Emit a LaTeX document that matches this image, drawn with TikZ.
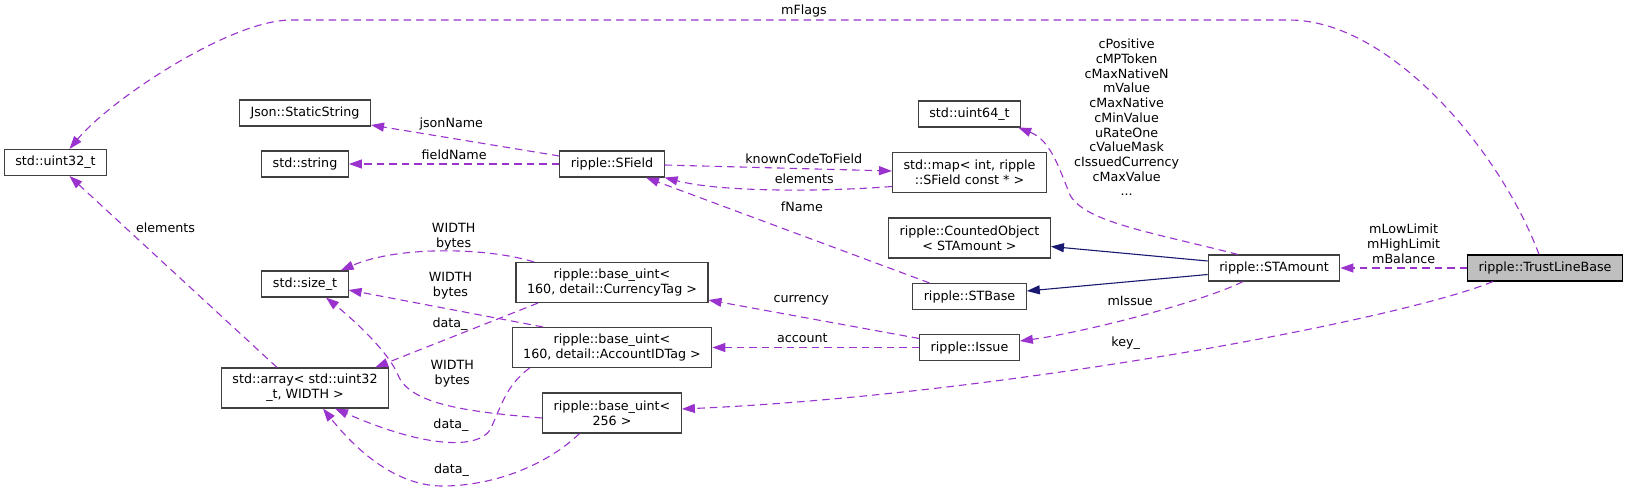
\documentclass[tikz,border=0pt]{standalone}
\usepackage{fontspec}
\setmainfont{DejaVu Sans}
\usetikzlibrary{arrows.meta}
\definecolor{usecol}{HTML}{9A32CD}
\definecolor{inhcol}{HTML}{191970}
\definecolor{boxgray}{HTML}{404040}
\definecolor{rootgray}{HTML}{BFBFBF}
\newcommand{\dxfont}{\fontsize{12.7pt}{14.7pt}\selectfont}
\tikzstyle{block} = [draw=boxgray, fill=white, rectangle, line width=1.1pt,
    minimum height=26pt, inner xsep=11pt, inner ysep=2pt, align=center, font=\dxfont]
\tikzstyle{wideblock} = [block, minimum height=40pt]
\tikzstyle{rootblock} = [block, draw=black, fill=rootgray]
\tikzstyle{memberline} = [draw=usecol, line width=1.1pt, dash pattern=on 7.5pt off 5pt]
\tikzstyle{inheritline} = [draw=inhcol, line width=1.1pt]
\tikzstyle{lbl} = [font=\dxfont, inner sep=1pt, align=center, text=black]
\begin{document}
\begin{tikzpicture}[x=1pt, y=-1pt, >={Triangle[length=13pt, width=9pt]}]
    \useasboundingbox (0,0) rectangle (1629,491);
    \node [block] (json) at (305,113) {Json::StaticString};
    \node [block, node distance=51pt, below of=json] (string) {std::string};
    \node [block, node distance=120pt, below of=string] (sizet) {std::size\_t};
    \node [wideblock, node distance=104pt, below of=sizet] (array) {std::array< std::uint32\\\_t, WIDTH >};
    \node [block, node distance=249.5pt, left of=string, yshift=1.5pt] (uint32) {std::uint32\_t};
    \node [block, node distance=307pt, right of=string] (sfield) {ripple::SField};
    \node [wideblock, node distance=118.5pt, below of=sfield] (currency) {ripple::base\_uint<\\160, detail::CurrencyTag >};
    \node [wideblock, node distance=65pt, below of=currency] (account) {ripple::base\_uint<\\160, detail::AccountIDTag >};
    \node [wideblock, node distance=65.5pt, below of=account] (base256) {ripple::base\_uint<\\256 >};
    \node [block, node distance=357.5pt, right of=account] (issue) {ripple::Issue};
    \node [block, node distance=51pt, above of=issue] (stbase) {ripple::STBase};
    \node [wideblock, node distance=58.5pt, above of=stbase] (counted) {ripple::CountedObject\\< STAmount >};
    \node [wideblock, node distance=65.5pt, above of=counted] (map) {std::map< int, ripple\\::SField const * >};
    \node [block, node distance=58.5pt, above of=map] (uint64) {std::uint64\_t};
    \node [block] (stamount) at (1274,268) {ripple::STAmount};
    \node [rootblock, node distance=271pt, right of=stamount] (trust) {ripple::TrustLineBase};
    \draw [memberline, ->] ([xshift=-6pt]trust.north) .. controls (1500,150) and (1390,20) .. (1289,20)
        -- node [lbl, above=1pt, pos=0.486] (lflags) {mFlags} (291,20)
        .. controls (230,20) and (110,100) .. ([xshift=14pt]uint32.north);
    \draw [memberline, ->] (trust) -- node [lbl, above=3pt] (llimit) {mLowLimit\\mHighLimit\\mBalance} (stamount);
    \draw [memberline, ->] ([xshift=26pt]trust.south west) .. controls (1400,320) and (1000,395)
        .. node [lbl, above=10.5pt, pos=0.55] (lkey) {key\_} ([yshift=4pt]base256.east);
    \draw [memberline, ->] ([xshift=-36pt]stamount.north) .. controls (1150,232) and (1085,222)
        .. node [lbl, above=29pt, pos=0.5] (lconst) {cPositive\\cMPToken\\cMaxNativeN\\mValue\\cMaxNative\\cMinValue\\uRateOne\\cValueMask\\cIssuedCurrency\\cMaxValue\\...} (1070,195)
        .. controls (1058,165) and (1050,140) .. ([xshift=-3pt]uint64.south east);
    \draw [inheritline, ->] ([yshift=7pt]stamount.west) -- ([yshift=-8.5pt]counted.east);
    \draw [inheritline, ->] ([yshift=-6.5pt]stamount.west) -- ([yshift=5.5pt]stbase.east);
    \draw [memberline, ->] ([xshift=-31pt]stamount.south) .. controls (1200,303) and (1080,333)
        .. node [lbl, above=11.5pt, pos=0.53] (lissue) {mIssue} ([yshift=6.5pt]issue.east);
    \draw [memberline, ->] ([xshift=-40pt]stbase.north) -- node [lbl, above=22pt, pos=0.45] (lfname) {fName} ([xshift=34pt]sfield.south);
    \draw [memberline, ->] ([yshift=8pt]sfield.west) -- node [lbl, above=7pt, pos=0.574] (ljson) {jsonName} ([yshift=-12pt]json.east);
    \draw [memberline, ->] (sfield) -- node [lbl, above=3pt] (lfield) {fieldName} (string);
    \draw [memberline, ->] ([yshift=-1pt]sfield.east) -- node [lbl, above=3.5pt, pos=0.612] (lknown) {knownCodeToField} ([yshift=1.5pt]map.west);
    \draw [memberline, ->] ([yshift=-14pt]map.west) .. controls (820,192) and (720,192)
        .. node [lbl, above=4.5pt, pos=0.37] (lmapel) {elements} (sfield.south east);
    \draw [memberline, ->] ([yshift=9pt]issue.west) -- node [lbl, above=10.5pt, pos=0.56] (lcur) {currency} ([yshift=-17.5pt]currency.east);
    \draw [memberline, ->] (issue) -- node [lbl, above=3.5pt, pos=0.565] (lacc) {account} (account);
    \draw [memberline, ->] ([xshift=-78pt]currency.north) .. controls (490,248) and (400,245)
        .. node [lbl, above=0pt, pos=0.45] (lwida) {WIDTH\\bytes} ([xshift=-8pt]sizet.north east);
    \draw [memberline, ->] ([xshift=-74pt]currency.south) -- node [lbl, above=5.5pt, pos=0.54] (ldataa) {data\_} ([xshift=-14pt]array.north east);
    \draw [memberline, ->] ([xshift=-69pt]account.north) -- node [lbl, above=9pt, pos=0.476] (lwidb) {WIDTH\\bytes} ([yshift=-6pt]sizet.east);
    \draw [memberline, ->] ([xshift=-82.5pt]account.south) .. controls (505,386) and (500,410) .. (490,430)
        .. controls (478,448) and (430,450) .. node [lbl, above=9pt, pos=0.45] (ldatab) {data\_} ([xshift=30pt]array.south);
    \draw [memberline, ->] ([yshift=-5pt]base256.west) .. controls (470,412) and (410,405)
        .. node [lbl, above=18pt, pos=0.47] (lwidc) {WIDTH\\bytes} (398,375)
        .. controls (390,355) and (360,325) .. ([xshift=21pt]sizet.south);
    \draw [memberline, ->] ([xshift=-32.5pt]base256.south) .. controls (550,462) and (500,485)
        .. node [lbl, above=7.5pt, pos=0.96] (ldatac) {data\_} (445,486)
        .. controls (400,487) and (360,455) .. ([xshift=18pt]array.south);
    \draw [memberline, ->] ([xshift=-28pt]array.north) -- node [lbl, right=9pt, pos=0.73] (lelem) {elements} ([xshift=14pt]uint32.south);
\end{tikzpicture}
\end{document}
